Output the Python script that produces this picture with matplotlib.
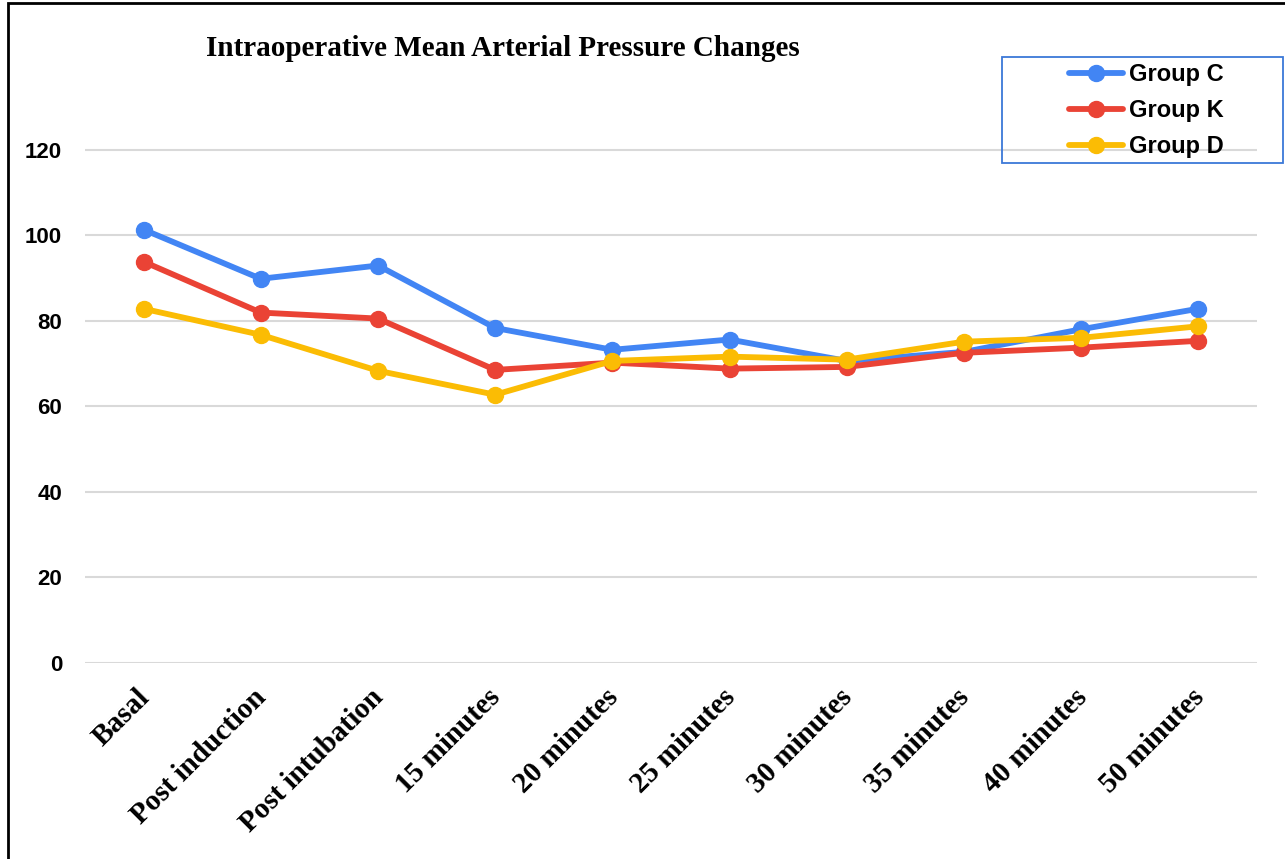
import numpy as np
import matplotlib.pyplot as plt
import matplotlib.transforms as mtransforms
from matplotlib.patches import Rectangle

categories = ["Basal", "Post induction", "Post intubation", "15 minutes",
              "20 minutes", "25 minutes", "30 minutes", "35 minutes",
              "40 minutes", "50 minutes"]
group_c = [101.3, 89.8, 92.9, 78.3, 73.2, 75.6, 70.6, 72.7, 78.0, 82.8]
group_k = [93.8, 81.9, 80.5, 68.5, 70.2, 68.8, 69.2, 72.5, 73.7, 75.3]
group_d = [82.8, 76.7, 68.3, 62.7, 70.6, 71.6, 70.9, 75.1, 76.0, 78.7]
yticks = [0, 20, 40, 60, 80, 100, 120]

fig = plt.figure(figsize=(12.85, 8.59), dpi=100)
ax = fig.add_axes([0.0661, 0.2282, 0.9121, 0.6973])

x = np.arange(len(categories))
series = [("Group C", group_c, "#4285F4"),
          ("Group K", group_k, "#EA4335"),
          ("Group D", group_d, "#FBBC04")]
for name, vals, col in series:
    ax.plot(x, vals, color=col, lw=4.2, marker="o", ms=11.5, label=name,
            solid_capstyle="round")

ax.set_xlim(-0.5, len(categories) - 0.5)
ax.set_ylim(0, 140)
ax.set_yticks(yticks)
ax.set_yticklabels([str(v) for v in yticks], fontfamily="Liberation Sans",
                   fontweight="bold", fontsize=16)
ax.set_xticks(x)
ax.set_xticklabels([])

# slanted category labels, placed just left of each tick
trans = ax.get_xaxis_transform() + mtransforms.ScaledTranslation(
    -8 / 100, -21 / 100, fig.dpi_scale_trans)
for i, lab in enumerate(categories):
    ax.text(x[i], 0, lab, transform=trans, rotation=45, ha="right", va="top",
            rotation_mode="anchor", fontfamily="Liberation Serif",
            fontweight="bold", fontsize=21)

ax.tick_params(axis="both", length=0)
ax.tick_params(axis="y", pad=16.5)
ax.grid(axis="y", color="#d9d9d9", lw=1.5)
ax.set_axisbelow(True)
for s in ax.spines.values():
    s.set_visible(False)

fig.text(0.391, 0.943, "Intraoperative Mean Arterial Pressure Changes",
         ha="center", va="center", fontfamily="Liberation Serif",
         fontweight="bold", fontsize=21)

# legend box drawn separately, entries placed inside it
fig.patches.append(Rectangle((0.7798, 0.8102), 0.2187, 0.1234,
                             transform=fig.transFigure, fill=False,
                             edgecolor="#3c78d8", lw=1.3))
leg = fig.legend(loc="center left", bbox_to_anchor=(0.8319, 0.871),
                 frameon=False,
                 prop={"family": "Liberation Sans", "weight": "bold", "size": 17},
                 handlelength=2.3, labelspacing=0.55, borderpad=0,
                 handletextpad=0.25, borderaxespad=0)

# outer frame around the chart
fig.patches.append(Rectangle((0.0065, -0.02), 1.1, 1.0165, transform=fig.transFigure,
                             fill=False, edgecolor="black", lw=2))

fig.savefig("out.png", dpi=100)
